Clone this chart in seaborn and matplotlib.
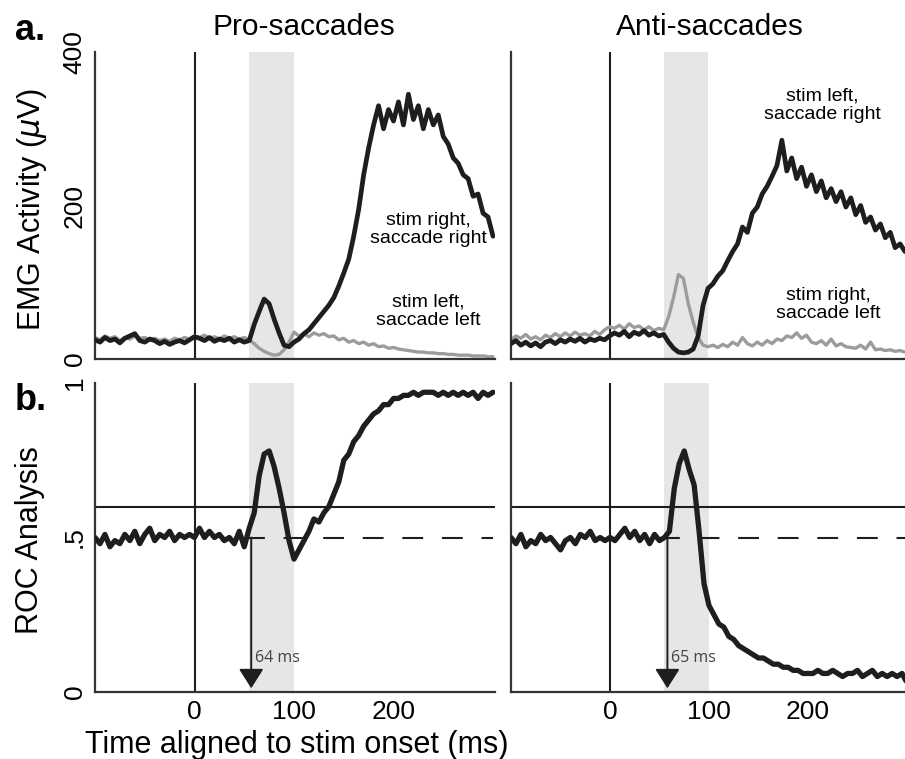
import numpy as np
import pandas as pd
import matplotlib
matplotlib.use("Agg")
import matplotlib.pyplot as plt
import seaborn as sns

# --- data (5 ms steps, -100..300 ms) ---
time_ms = np.arange(-100, 305, 5)

pro_emg_right = [25, 22, 28, 24, 26, 21, 27, 30, 33, 24, 22, 26, 24, 20, 23, 19, 22, 24, 21, 25,
                 29, 27, 24, 28, 23, 26, 24, 27, 22, 25, 22, 24, 45, 62, 78, 72, 52, 34, 18, 16,
                 22, 26, 33, 38, 46, 54, 62, 70, 80, 95, 112, 130, 160, 195, 240, 275, 305, 330, 300, 325,
                 310, 335, 305, 345, 312, 330, 300, 325, 305, 318, 290, 280, 262, 255, 240, 235, 212, 215, 190, 185,
                 160]
pro_emg_left = [28, 25, 30, 27, 29, 24, 28, 26, 30, 27, 28, 25, 27, 24, 26, 23, 27, 25, 28, 26,
                30, 28, 31, 27, 29, 26, 30, 27, 29, 26, 28, 25, 20, 14, 10, 7, 5, 6, 12, 22,
                35, 30, 33, 29, 34, 31, 33, 29, 30, 25, 27, 22, 24, 20, 22, 18, 20, 16, 17, 14,
                15, 13, 12, 11, 10, 9, 9, 8, 8, 7, 7, 6, 6, 5, 5, 5, 4, 4, 4, 3,
                3]
anti_emg_right = [20, 24, 18, 22, 17, 21, 16, 22, 24, 20, 25, 22, 26, 23, 27, 22, 26, 24, 27, 25,
                  30, 34, 31, 36, 29, 35, 32, 37, 31, 34, 30, 32, 22, 14, 9, 8, 9, 13, 30, 70,
                  92, 98, 108, 115, 128, 140, 150, 172, 165, 190, 198, 215, 225, 238, 252, 285, 245, 262, 235, 250,
                  225, 240, 218, 232, 210, 222, 205, 218, 198, 210, 188, 200, 178, 185, 168, 176, 158, 165, 145, 150,
                  140]
anti_emg_left = [25, 30, 27, 32, 26, 29, 25, 31, 28, 33, 29, 34, 30, 35, 31, 33, 30, 36, 32, 38,
                 42, 40, 44, 39, 46, 41, 43, 38, 42, 37, 40, 38, 55, 80, 110, 105, 72, 48, 28, 18,
                 16, 18, 15, 19, 16, 22, 18, 28, 20, 17, 22, 18, 24, 20, 26, 24, 30, 28, 34, 27,
                 31, 22, 20, 24, 18, 26, 17, 20, 16, 15, 14, 18, 13, 22, 12, 13, 11, 12, 10, 11,
                 9]

pro_roc = [.50, .48, .51, .47, .49, .48, .51, .49, .52, .48, .51, .53, .49, .51, .50, .52, .49, .51, .50, .51,
           .50, .53, .50, .52, .50, .51, .49, .50, .48, .52, .47, .53, .58, .70, .77, .78, .73, .66, .58, .49,
           .43, .46, .49, .52, .56, .55, .58, .60, .64, .68, .75, .77, .81, .83, .86, .88, .90, .91, .93, .93,
           .95, .95, .96, .96, .97, .96, .97, .97, .97, .96, .97, .96, .97, .96, .97, .96, .97, .95, .97, .96,
           .97]
anti_roc = [.50, .48, .51, .47, .49, .48, .51, .49, .50, .48, .46, .49, .50, .48, .51, .50, .52, .49, .50, .49,
            .50, .49, .51, .53, .50, .52, .49, .51, .48, .51, .49, .50, .52, .66, .74, .78, .72, .67, .52, .35,
            .28, .25, .22, .21, .18, .17, .15, .14, .13, .12, .11, .11, .10, .09, .09, .08, .08, .07, .07, .06,
            .06, .06, .07, .06, .06, .07, .06, .05, .06, .06, .07, .05, .06, .07, .05, .06, .05, .06, .05, .06,
            .03]

window_ms = (55, 100)
threshold = 0.6
onset_ms = [57, 58]
onset_labels = ["64 ms", "65 ms"]
titles = ["Pro-saccades", "Anti-saccades"]

sns.set_style("white")
plt.rcParams["font.family"] = ["Liberation Sans", "DejaVu Sans"]
plt.rcParams["text.color"] = "black"
plt.rcParams["xtick.color"] = "black"
plt.rcParams["ytick.color"] = "black"

DARK = "#1e1e1e"
GRAY = "#9c9c9c"
SHADE = "#e6e6e6"
SPINE = "#333333"

fig = plt.figure(figsize=(9.05, 7.59), dpi=100)
W, H = 905, 759


def px_axes(l, t, r, b):
    return fig.add_axes([l / W, 1 - b / H, (r - l) / W, (b - t) / H])


ax_tl = px_axes(95, 52, 495, 359)
ax_tr = px_axes(511, 52, 905, 359)
ax_bl = px_axes(95, 383, 495, 692)
ax_br = px_axes(511, 383, 905, 692)

emg_panels = [(ax_tl, pro_emg_right, pro_emg_left, (-100, 302)),
              (ax_tr, anti_emg_right, anti_emg_left, (-100, 298))]
roc_panels = [(ax_bl, pro_roc, (-100, 302)), (ax_br, anti_roc, (-100, 298))]


def style_axis(ax, xlim, ylim):
    ax.set_xlim(*xlim)
    ax.set_ylim(*ylim)
    sns.despine(ax=ax)
    for s in ["left", "bottom"]:
        ax.spines[s].set_linewidth(1.6)
        ax.spines[s].set_color(SPINE)
    ax.tick_params(direction="in", length=3, width=2.5, color=SPINE,
                   labelsize=19, pad=6, labelcolor="black")
    ax.axvspan(*window_ms, color=SHADE, lw=0, zorder=0)
    ax.axvline(0, color=DARK, lw=1.5, zorder=1)


for i, (ax, right, left, xlim) in enumerate(emg_panels):
    df = pd.DataFrame({"t": time_ms, "right": right, "left": left})
    style_axis(ax, xlim, (0, 400))
    sns.lineplot(data=df, x="t", y="left", ax=ax, color=GRAY, lw=2.4, zorder=2)
    sns.lineplot(data=df, x="t", y="right", ax=ax, color=DARK, lw=3.4, zorder=3)
    ax.set_xlabel("")
    ax.set_ylabel("")
    ax.set_xticks([100, 200, 300])
    ax.set_xticklabels([])
    ax.set_yticks([0, 200, 400])
    if i == 0:
        ax.set_yticklabels(["0", "200", "400"], rotation=90, va="center")
    else:
        ax.set_yticklabels([])

ax_tl.text(235, 169, "stim right,\nsaccade right", ha="center", va="center",
           fontsize=14, linespacing=1.1)
ax_tl.text(235, 62, "stim left,\nsaccade left", ha="center", va="center",
           fontsize=14, linespacing=1.1)
ax_tr.text(216, 331, "stim left,\nsaccade right", ha="center", va="center",
           fontsize=14, linespacing=1.1)
ax_tr.text(222, 71, "stim right,\nsaccade left", ha="center", va="center",
           fontsize=14, linespacing=1.1)

for i, (ax, roc, xlim) in enumerate(roc_panels):
    df = pd.DataFrame({"t": time_ms, "roc": roc})
    style_axis(ax, xlim, (0, 1))
    ax.axhline(threshold, color=DARK, lw=1.5, zorder=1)
    ax.plot([50, 300], [0.5, 0.5], color=DARK, lw=1.5, dashes=(10, 9), zorder=1)
    sns.lineplot(data=df, x="t", y="roc", ax=ax, color=DARK, lw=3.8, zorder=3)
    ax.set_xlabel("")
    ax.set_ylabel("")
    ax.set_xticks([0, 100, 200])
    ax.set_xticklabels(["0", "100", "200"])
    ax.set_yticks([0, 0.5, 1])
    if i == 0:
        ax.set_yticklabels(["0", ".5", "1"], rotation=90, va="center")
    else:
        ax.set_yticklabels([])
    ax.annotate("", xy=(onset_ms[i], 0.012), xytext=(onset_ms[i], 0.5),
                arrowprops=dict(arrowstyle="-|>,head_length=0.6,head_width=0.38",
                                mutation_scale=20, color=DARK, lw=1.4,
                                shrinkA=0, shrinkB=0), zorder=4)
    ax.text(onset_ms[i] + 4, 0.11, onset_labels[i], fontsize=11.5,
            color="#444444", ha="left", va="center",
            family=["Open Sans", "DejaVu Sans"])

fig.text(304 / W, 1 - 35 / H, titles[0], ha="center", va="baseline", fontsize=21.5)
fig.text(710 / W, 1 - 35 / H, titles[1], ha="center", va="baseline", fontsize=21.5)
fig.text(15 / W, 1 - 40 / H, "a.", ha="left", va="baseline", fontsize=26, fontweight="bold")
fig.text(15 / W, 1 - 410 / H, "b.", ha="left", va="baseline", fontsize=26, fontweight="bold")
fig.text(32 / W, 1 - 209 / H, r"EMG Activity ($\mu$V)", rotation=90,
         ha="center", va="center", fontsize=22)
fig.text(30 / W, 1 - 540 / H, "ROC Analysis", rotation=90,
         ha="center", va="center", fontsize=22)
fig.text(297 / W, 1 - 753 / H, "Time aligned to stim onset (ms)",
         ha="center", va="baseline", fontsize=22)

fig.savefig("out.png", dpi=100)
